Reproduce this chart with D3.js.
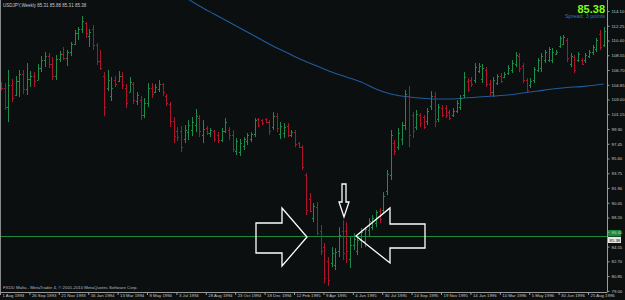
<!DOCTYPE html>
<html>
<head>
<meta charset="utf-8">
<script src="https://cdn.jsdelivr.net/npm/d3@7"></script>
<style>
  html, body { margin: 0; padding: 0; background: #0b0f0f; overflow: hidden; }
  svg { display: block; }
</style>
</head>
<body>
<div id="chart"></div>
<script>
// weekly USDJPY bars, 1 Aug 1993 onwards (bar index = week number)
const opens = [
  104.5, 104.0, 101.5, 104.3, 103.1, 104.8, 105.7, 103.8, 105.1, 105.5,
  105.0, 106.5, 107.5, 108.0, 106.9, 105.5, 107.6, 108.2, 107.7, 108.4,
  109.5, 110.8, 111.3, 112.1, 110.5, 111.3, 109.3, 107.3, 105.5, 104.0,
  103.0, 105.0, 104.8, 105.5, 104.0, 103.5, 104.5, 102.3, 102.5, 100.5,
  102.1, 104.0, 103.5, 103.8, 104.5, 103.0, 101.9, 99.8, 98.5, 98.5,
  97.5, 98.4, 98.7, 99.3, 100.2, 98.0, 98.9, 98.3, 98.5, 98.0,
  97.4, 98.6, 98.7, 98.0, 96.1, 95.9, 96.7, 97.3, 97.5, 98.2,
  100.0, 99.9, 100.0, 99.7, 99.0, 100.4, 98.2, 98.3, 99.2, 98.1,
  98.4, 97.0, 96.5, 93.0, 90.0, 87.7, 89.0, 86.0, 84.0, 82.3,
  82.0, 81.7, 83.5, 86.0, 86.0, 82.5, 84.3, 83.5, 84.9, 84.7,
  86.1, 86.5, 87.0, 88.5, 88.7, 91.0, 93.0, 97.0, 96.5, 97.5,
  99.3, 103.0, 100.5, 99.0, 100.5, 100.3, 99.8, 101.7, 103.0, 100.1,
  101.4, 101.4, 100.9, 100.5, 101.1, 101.6, 103.1, 104.8, 104.9, 104.9,
  106.1, 105.1, 106.2, 104.5, 103.4, 104.6, 105.5, 105.3, 105.8, 106.2,
  106.9, 108.0, 106.7, 104.9, 104.3, 105.0, 106.2, 106.5, 107.4, 107.5,
  107.5, 108.2, 109.2, 109.5, 110.0, 106.9, 107.8, 107.4, 107.5, 107.4,
  108.0, 108.4, 108.8, 110.7, 109.3
];
const highs = [
  104.69, 104.56, 106.20, 105.07, 105.44, 106.20, 106.20, 107.07, 106.07, 105.94,
  106.95, 107.95, 108.45, 108.33, 107.83, 108.08, 108.58, 109.08, 108.71, 109.71,
  111.22, 111.59, 112.97, 112.22, 111.34, 111.84, 109.58, 108.71, 105.94, 106.20,
  105.32, 105.44, 106.07, 105.94, 104.44, 105.32, 104.69, 103.43, 102.93, 102.68,
  104.56, 104.56, 104.44, 104.94, 104.56, 103.18, 102.18, 100.30, 99.04, 99.17,
  99.29, 99.92, 100.30, 101.30, 100.55, 99.92, 99.17, 98.92, 98.67, 98.41,
  98.92, 100.17, 99.04, 98.67, 97.66, 97.54, 97.79, 98.29, 98.41, 100.17,
  100.17, 100.05, 100.17, 99.92, 100.92, 100.80, 99.67, 99.54, 99.54, 98.67,
  98.67, 97.16, 96.78, 93.27, 90.76, 89.50, 89.63, 86.74, 84.48, 82.73,
  83.98, 83.86, 86.49, 87.37, 87.12, 85.24, 85.74, 85.24, 86.37, 86.49,
  87.62, 88.00, 88.63, 88.88, 90.88, 93.65, 98.67, 97.41, 98.92, 99.67,
  103.69, 104.19, 100.92, 101.18, 100.80, 100.55, 101.43, 103.56, 103.43, 101.93,
  101.80, 101.80, 101.18, 101.43, 102.43, 103.06, 105.94, 105.19, 105.32, 107.07,
  107.07, 106.95, 106.57, 104.94, 105.32, 105.69, 105.82, 105.94, 106.82, 107.45,
  108.45, 108.33, 107.07, 105.19, 105.19, 106.57, 107.70, 108.33, 108.71, 109.08,
  108.96, 108.71, 110.46, 110.59, 110.21, 108.33, 108.08, 108.45, 107.70, 108.33,
  108.71, 109.33, 110.21, 111.22, 111.59
];
const lows = [
  103.69, 101.18, 99.67, 102.18, 102.93, 102.81, 103.18, 103.06, 104.06, 104.06,
  104.94, 105.94, 106.57, 106.45, 104.94, 104.94, 107.20, 107.45, 106.70, 107.95,
  109.33, 109.96, 110.84, 110.21, 109.08, 108.71, 106.82, 106.20, 100.42, 103.56,
  102.30, 104.06, 104.69, 103.81, 101.43, 103.43, 101.93, 101.80, 99.92, 100.17,
  101.55, 102.68, 103.31, 103.43, 102.93, 101.68, 99.04, 97.03, 97.28, 95.90,
  97.03, 97.41, 97.91, 98.41, 97.79, 97.03, 98.04, 97.79, 97.16, 97.03,
  97.16, 98.29, 97.41, 95.90, 95.53, 95.40, 96.16, 96.78, 97.16, 97.79,
  99.04, 99.29, 99.54, 98.04, 98.67, 98.41, 97.54, 97.66, 97.79, 97.79,
  96.53, 96.41, 93.65, 88.00, 88.37, 87.12, 85.49, 82.98, 79.46, 79.09,
  81.47, 81.10, 82.73, 82.35, 81.97, 81.35, 83.61, 82.98, 83.86, 83.98,
  85.24, 86.12, 86.49, 86.99, 88.25, 90.51, 92.39, 95.53, 96.16, 96.78,
  98.67, 96.53, 97.66, 98.67, 99.04, 98.79, 99.29, 101.18, 99.04, 99.67,
  100.30, 100.17, 99.92, 100.30, 100.80, 101.18, 102.68, 103.43, 104.06, 104.56,
  105.82, 104.56, 104.06, 102.93, 102.81, 104.31, 104.56, 105.19, 105.57, 105.82,
  106.57, 105.94, 104.56, 103.31, 103.94, 104.56, 105.94, 105.94, 107.07, 107.20,
  107.07, 108.08, 108.96, 109.33, 107.20, 106.57, 105.82, 107.20, 106.82, 107.07,
  107.70, 108.08, 108.45, 108.71, 109.08
];
const closes = [
  104.0, 101.5, 104.3, 102.7, 104.8, 105.7, 103.8, 105.1, 105.5, 104.8,
  106.5, 107.5, 108.0, 106.9, 105.5, 107.6, 108.2, 107.7, 108.4, 109.5,
  110.8, 111.3, 112.4, 110.9, 111.0, 109.3, 107.3, 106.5, 101.5, 105.0,
  104.0, 104.5, 105.5, 104.3, 102.0, 104.7, 102.5, 103.1, 100.5, 102.1,
  104.0, 103.2, 104.1, 104.5, 103.4, 102.0, 99.8, 97.9, 97.8, 96.5,
  98.7, 99.3, 99.7, 100.4, 98.5, 98.8, 98.3, 98.7, 97.5, 97.4,
  98.6, 99.7, 98.0, 96.3, 97.3, 97.0, 97.5, 98.1, 98.2, 99.9,
  99.3, 99.5, 99.7, 98.5, 100.4, 98.9, 99.2, 99.1, 98.1, 98.4,
  96.9, 96.6, 94.0, 88.7, 88.5, 89.1, 85.8, 83.5, 80.1, 79.8,
  83.3, 83.4, 85.5, 83.3, 83.5, 84.3, 85.0, 84.9, 85.9, 86.2,
  87.3, 87.7, 88.4, 87.5, 90.4, 93.2, 98.1, 96.1, 98.3, 99.3,
  103.2, 98.0, 98.5, 100.7, 99.5, 99.1, 101.1, 103.0, 99.8, 101.5,
  100.5, 100.6, 100.2, 101.1, 102.1, 102.7, 105.3, 103.8, 104.4, 106.6,
  106.7, 106.5, 104.5, 103.4, 104.9, 105.4, 104.8, 105.7, 106.5, 107.1,
  108.1, 106.5, 105.0, 103.7, 104.8, 106.3, 107.4, 108.0, 108.4, 108.8,
  108.5, 108.5, 110.2, 110.3, 107.7, 108.0, 106.2, 108.2, 107.0, 108.1,
  108.5, 109.1, 110.0, 109.1, 111.1
];

// moving average (blue), read at a few bar positions
const maIndex = [50, 54, 58, 62, 66, 70, 74, 78, 82, 86, 90, 94, 98, 102, 106, 110,
  114, 118, 122, 126, 130, 134, 138, 142, 146, 150, 154, 158, 162, 164];
const maValue = [115.36, 114.23, 113.22, 112.22, 111.22, 110.21, 109.21, 108.33, 107.45, 106.70,
  105.94, 105.32, 104.69, 103.81, 103.18, 102.87, 102.68, 102.56, 102.56, 102.68,
  102.81, 102.93, 103.06, 103.31, 103.56, 103.81, 104.00, 104.12, 104.31, 104.44];

// axes
const priceLabels = ["114.10", "112.25", "110.40", "108.55", "106.70", "104.85", "103.00",
  "101.15", "99.30", "97.45", "95.60", "93.75", "91.90", "90.05", "88.20", "86.40",
  "84.55", "82.70", "80.85", "79.00"];
const dateTickIndex = [0, 8, 16, 24, 32, 40, 48, 56, 64, 72, 80, 88, 96, 104, 112, 120,
  128, 136, 144, 152, 160];
const dateLabels = ["1 Aug 1993", "26 Sep 1993", "21 Nov 1993", "16 Jan 1994", "13 Mar 1994",
  "8 May 1994", "3 Jul 1994", "28 Aug 1994", "23 Oct 1994", "18 Dec 1994", "12 Feb 1995",
  "9 Apr 1995", "4 Jun 1995", "30 Jul 1995", "24 Sep 1995", "19 Nov 1995", "14 Jan 1996",
  "10 Mar 1996", "5 May 1996", "30 Jun 1996", "25 Aug 1996"];

const bid = 85.38;
const header = "USDJPY,Weekly  85.31 85.88 85.31 85.38";
const spreadText = "Spread: 3 points";
const footer = "FXDD Malta - MetaTrader 4, \u00a9 2001-2010 MetaQuotes Software Corp.";

const width = 625, height = 300;
const plotRight = 607, plotBottom = 292;
const labelShift = 4; // MT4 prints the price labels a little below their level
const upColor = "#1f8a4c", downColor = "#b0142c", axisColor = "#9a9a9a", textColor = "#c8c8c8";
const font = "Liberation Sans, Arial, sans-serif";

const svg = d3.select("#chart")
    .append("svg")
    .attr("width", width)
    .attr("height", height)
    .style("background", "#0b0f0f");

svg.append("defs").append("clipPath").attr("id", "plot-clip")
    .append("rect").attr("x", 0).attr("y", 0).attr("width", plotRight).attr("height", plotBottom);

const xScale = d3.scaleLinear().domain([0, 165]).range([1, 607.4]);
const yScale = d3.scaleLinear().domain([78.356, 114.98]).range([plotBottom, 0]);
const px = i => Math.round(xScale(i)) + 0.5;

const plot = svg.append("g").attr("clip-path", "url(#plot-clip)");

// left frame line
svg.append("line")
    .attr("x1", 0.5).attr("x2", 0.5).attr("y1", 0).attr("y2", plotBottom)
    .style("stroke", "#8a8a8a");

// bid line
const bidY = Math.round(yScale(bid));
plot.append("line")
    .attr("x1", 0).attr("x2", plotRight)
    .attr("y1", bidY + 0.5).attr("y2", bidY + 0.5)
    .style("stroke", "#1c8a3c");

// moving average
plot.append("path")
    .datum(maIndex.map((d, k) => [d, maValue[k]]))
    .attr("fill", "none")
    .attr("stroke", "#1f5c9e")
    .attr("stroke-width", 1.1)
    .attr("d", d3.line().x(d => xScale(d[0])).y(d => yScale(d[1])).curve(d3.curveMonotoneX));

// OHLC bars
const bars = opens.map((o, i) => ({ i: i, o: o, h: highs[i], l: lows[i], c: closes[i] }));
const barG = plot.selectAll(".bar")
    .data(bars)
    .enter()
    .append("g")
    .attr("class", "bar")
    .style("stroke", d => d.c >= d.o ? upColor : downColor)
    .style("stroke-width", 1);

barG.append("line")
    .attr("x1", d => px(d.i)).attr("x2", d => px(d.i))
    .attr("y1", d => yScale(d.h)).attr("y2", d => yScale(d.l));
barG.append("line")
    .attr("x1", d => px(d.i) - 1.5).attr("x2", d => px(d.i))
    .attr("y1", d => Math.round(yScale(d.o)) + 0.5).attr("y2", d => Math.round(yScale(d.o)) + 0.5);
barG.append("line")
    .attr("x1", d => px(d.i)).attr("x2", d => px(d.i) + 1.5)
    .attr("y1", d => Math.round(yScale(d.c)) + 0.5).attr("y2", d => Math.round(yScale(d.c)) + 0.5);

// bid price marker boxes on the axis (drawn under the axis labels)
svg.append("rect")
    .attr("x", plotRight + 1).attr("y", bidY - 6).attr("width", 13).attr("height", 6.5)
    .style("fill", "#1c8a3c");
svg.append("rect")
    .attr("x", plotRight + 1).attr("y", bidY + 1).attr("width", 13).attr("height", 6)
    .style("fill", "#e8e8e8");
svg.append("text")
    .attr("x", plotRight + 2.5).attr("y", bidY + 5.5)
    .style("font-family", font).style("font-size", "4.3px").style("fill", "#111")
    .text(bid.toFixed(2));

// price axis
const yAxis = svg.append("g")
    .attr("class", "y-axis")
    .attr("transform", `translate(${plotRight + 0.5}, ${labelShift})`)
    .call(d3.axisRight(yScale)
        .tickValues(priceLabels.map(Number))
        .tickSize(2)
        .tickPadding(2)
        .tickFormat((d, k) => priceLabels[k]));
yAxis.select(".domain").attr("d", `M0,${-labelShift}V${plotBottom - labelShift}`).style("stroke", axisColor);
yAxis.selectAll("line").style("stroke", axisColor);
yAxis.selectAll("text")
    .style("font-family", font)
    .style("font-size", "4.3px")
    .style("fill", textColor);

// time axis
svg.append("line")
    .attr("x1", 0).attr("x2", plotRight + 0.5)
    .attr("y1", plotBottom + 0.5).attr("y2", plotBottom + 0.5)
    .style("stroke", axisColor);
const xAxis = svg.append("g")
    .attr("class", "x-axis")
    .attr("transform", `translate(0, ${plotBottom})`)
    .call(d3.axisBottom(xScale)
        .tickValues(dateTickIndex)
        .tickSize(3)
        .tickFormat((d, k) => dateLabels[k]));
xAxis.select(".domain").remove();
xAxis.selectAll("line").attr("transform", "translate(-1,0)").style("stroke", axisColor);
xAxis.selectAll("text")
    .attr("text-anchor", "start")
    .attr("x", 1)
    .attr("y", 2)
    .style("font-family", font)
    .style("font-size", "4.3px")
    .style("fill", textColor);

// header texts
svg.append("text")
    .attr("x", 3).attr("y", 6.5)
    .style("font-family", font).style("font-size", "4.5px").style("fill", textColor)
    .text(header);
svg.append("text")
    .attr("x", 605).attr("y", 12.5)
    .attr("text-anchor", "end")
    .style("font-family", font).style("font-size", "11px").style("font-weight", "bold")
    .style("fill", "#7cff1a")
    .text(bid.toFixed(2));
svg.append("text")
    .attr("x", 605).attr("y", 18)
    .attr("text-anchor", "end")
    .style("font-family", font).style("font-size", "5.5px").style("fill", "#2f77b8")
    .text(spreadText);
svg.append("text")
    .attr("x", 3).attr("y", 289)
    .style("font-family", font).style("font-size", "4.3px").style("fill", "#b8b8b8")
    .text(footer);

// hand-drawn arrows
const arrowRight = [[256, 223], [282, 223], [282, 208], [307, 237], [282, 266], [282, 253], [256, 253]];
const arrowLeft = [[425, 224], [390, 224], [390, 208], [356, 236], [390, 263], [390, 248], [425, 248]];
const arrowDown = [[342, 184], [346, 184], [346, 202], [349, 202], [344, 217], [339, 202], [342, 202]];
svg.selectAll(".arrow")
    .data([arrowRight, arrowLeft, arrowDown])
    .enter()
    .append("path")
    .attr("class", "arrow")
    .attr("d", d => "M" + d.join("L") + "Z")
    .style("fill", "none")
    .style("stroke", "#ffffff")
    .style("stroke-width", 1.3);
</script>
</body>
</html>
